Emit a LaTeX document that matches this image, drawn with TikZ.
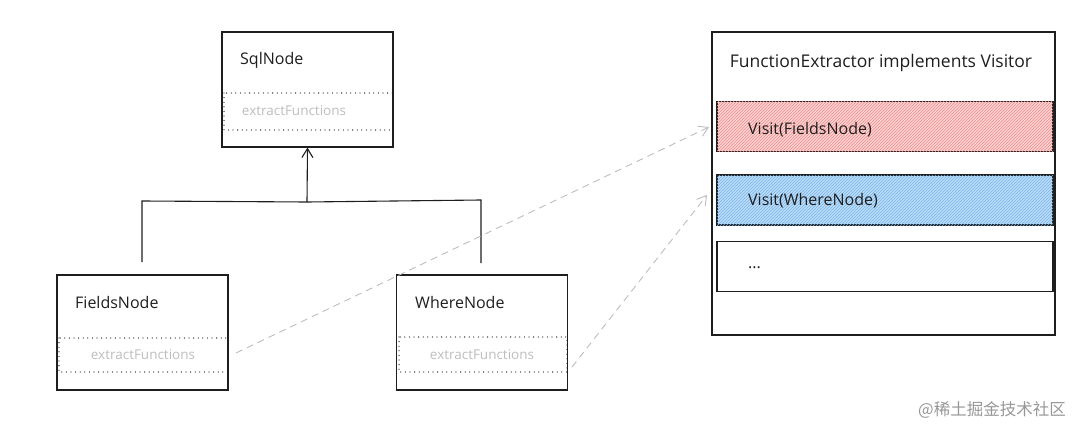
\documentclass[tikz,border=0pt]{standalone}
\usepackage{fontspec}
\setmainfont{Open Sans}
\newfontfamily\cjkfont{Noto Sans CJK SC}
\usetikzlibrary{arrows.meta,patterns}
\definecolor{ink}{HTML}{1E1E1E}
\definecolor{ghost}{HTML}{BDBDBD}
\definecolor{redfill}{HTML}{FBD3D3}
\definecolor{redhatch}{HTML}{F08C8C}
\definecolor{bluefill}{HTML}{BFDDF7}
\definecolor{bluehatch}{HTML}{74B3EA}
\begin{document}
\begin{tikzpicture}[x=1pt,y=-1pt,
  box/.style={draw=ink,line width=1.1pt,minimum width=#1,inner sep=0pt},
  cls/.style={box=171pt,minimum height=115pt},
  label/.style={anchor=west,inner sep=0pt,font=\fontsize{16}{18}\selectfont,text=ink},
  meth/.style={inner sep=0pt,font=\fontsize{13.5}{15}\selectfont,text=ghost},
  compart/.style={draw=ink,line width=1.3pt,line cap=round,dash pattern=on 0pt off 4.6pt},
  slot/.style={box=336pt,minimum height=50pt},
  link/.style={draw=ghost,line width=0.9pt,dash pattern=on 7pt off 5pt,-{Straight Barb[length=9pt,width=11pt]}},
  inherit/.style={draw=ink,line width=1.1pt}
]
\useasboundingbox (0,0) rectangle (1080,436);
% class boxes
\node[cls] (sql) at (307.5,89.5) {};
\node[cls] (fields) at (142.5,332.5) {};
\node[cls] (where) at (482,332.5) {};
\node[label] (sqlt) at (240,60) {SqlNode};
\node[label] (fieldst) at (75,302) {FieldsNode};
\node[label] (wheret) at (415,302) {WhereNode};
% compartments
\draw[compart] (224,93) rectangle (393,130);
\node[meth] (sqlm) at (294,111) {extractFunctions};
\draw[compart] (59,338) rectangle (228,372);
\node[meth] (fieldsm) at (143,355) {extractFunctions};
\draw[compart] (399,337) rectangle (567,372);
\node[meth] (wherem) at (482,355) {extractFunctions};
% inheritance
\coordinate (jl) at (142,201);
\coordinate (jm) at (307,202);
\coordinate (jr) at (481,200);
\coordinate (fl) at (142,262);
\coordinate (fr) at (481,263);
\draw[inherit] (fl) -- (jl) -- (jm) -- (jr) -- (fr);
\draw[inherit,-{Straight Barb[length=9pt,width=11pt]}] (jm) -- (sql.south);
% visitor
\node[box=343pt,minimum height=303pt] (fe) at (883.5,183.5) {};
\node[inner sep=0pt,font=\fontsize{17.5}{20}\selectfont,text=ink] (fet) at (881,63) {FunctionExtractor implements Visitor};
\node[slot,fill=redfill,postaction={pattern=north east lines,pattern color=redhatch}] (visf) at (885,126.5) {};
\node[slot,fill=bluefill,postaction={pattern=north east lines,pattern color=bluehatch}] (visw) at (885,200) {};
\node[slot] (more) at (885,266.5) {};
\node[label] (visft) at (748,130) {Visit(FieldsNode)};
\node[label] (viswt) at (748,201) {Visit(WhereNode)};
\node[label] (moret) at (748,268) {...};
% dashed links
\coordinate (s1) at (236,353);
\coordinate (e1) at (709,127);
\coordinate (s2) at (572,367);
\coordinate (e2) at (707,195);
\draw[link] (s1) -- (e1);
\draw[link] (s2) -- (e2);
% watermark
\node[anchor=east,inner sep=0pt,font=\cjkfont\fontsize{16.5}{18}\selectfont,text=ghost!80!black] (wm) at (1066,410) {@稀土掘金技术社区};
\end{tikzpicture}
\end{document}
